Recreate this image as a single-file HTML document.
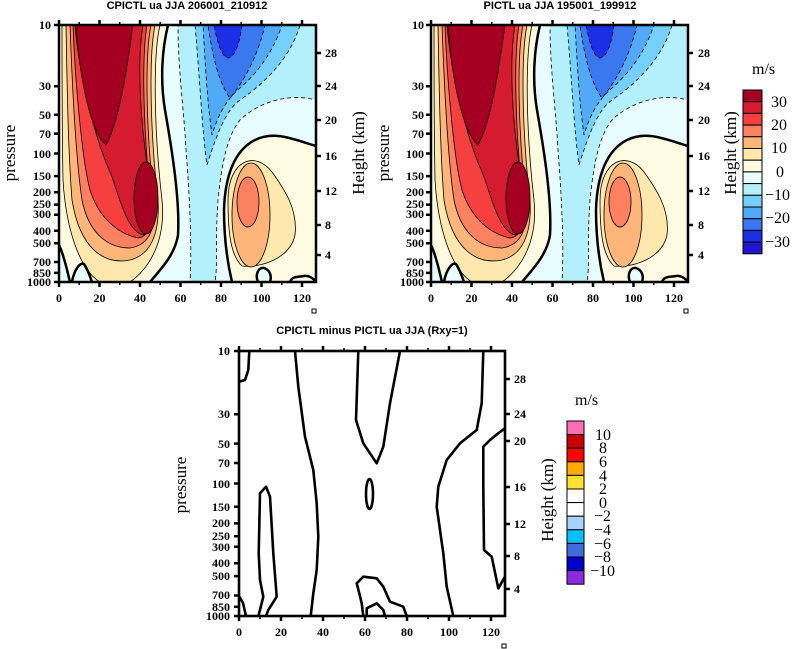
<!DOCTYPE html>
<html><head><meta charset="utf-8"><style>
html,body{margin:0;padding:0;background:#fff;}
svg{display:block;}
.t{font-family:"Liberation Sans",sans-serif;font-weight:bold;font-size:11px;}
.s{font-family:"Liberation Serif",serif;font-size:12px;font-weight:bold;}
.l{font-family:"Liberation Serif",serif;font-size:16px;}
.ax{font-family:"Liberation Serif",serif;font-size:17px;}
</style></head><body>
<svg width="796" height="649" viewBox="0 0 796 649" xmlns="http://www.w3.org/2000/svg">
<defs>
<clipPath id="cp"><rect x="59" y="25" width="257" height="257"/></clipPath>
<g id="pan">
<g clip-path="url(#cp)">
<rect x="59" y="25" width="257" height="257" fill="#e8fdff"/>
<path d="M178,25 L316,25 L316,100 C285,92 255,105 240,120 C228,135 222,160 218,200 C215,240 218,265 215,282 L190,282 C192,250 190,200 186,150 C184,110 178,70 178,25Z" fill="#b4f0fb" stroke="#000" stroke-width="0.8" stroke-dasharray="4,3"/>
<path d="M195,25 L300,25 C290,60 262,85 240,100 C225,110 215,140 207,165 C202,130 200,80 195,25Z" fill="#74d0fb" stroke="#000" stroke-width="0.8" stroke-dasharray="4,3"/>
<path d="M203,25 L282,25 C272,55 255,75 240,88 C226,100 218,115 212,135 C207,100 205,60 203,25Z" fill="#52a9f6" stroke="#000" stroke-width="0.8" stroke-dasharray="4,3"/>
<path d="M208,25 L265,25 C258,55 245,80 230,98 C220,85 213,60 208,25Z" fill="#3b78f0" stroke="#000" stroke-width="0.8" stroke-dasharray="4,3"/>
<path d="M214,25 L242,25 C240,40 236,57 228,58 C221,57 217,40 214,25Z" fill="#1c2fe6" stroke="#000" stroke-width="0.8" stroke-dasharray="4,3"/>
<path d="M59,25 L168,25 C162,50 160,80 165,110 C172,150 180,200 178,235 C175,255 160,270 150,282 L59,282Z" fill="#fffbe3"/>
<path d="M316,146 C295,140 275,130 255,140 C235,150 225,175 224,210 C224,240 228,265 232,282 L316,282Z" fill="#fffbe3"/>
<path d="M59,245 C64,255 67,270 70,282 L59,282Z" fill="#e8fdff"/>
<path d="M72,282 C74,270 80,262 84,264 C88,270 90,276 92,282Z" fill="#e8fdff"/>
<path d="M258,282 C255,275 258,267 264,268 C270,270 272,276 270,282Z" fill="#e8fdff"/>
<path d="M62,25 L160,25 C152,60 155,140 162,200 C166,240 150,268 130,282 L100,282 C80,270 66,230 63,180 C62,130 62,70 62,25Z" fill="#fee8ad" stroke="#000" stroke-width="0.8"/>
<path d="M66,25 L155,25 C148,60 151,140 158,200 C160,235 150,255 130,260 C105,265 80,250 72,200 C68,150 67,80 66,25Z" fill="#fdb57a" stroke="#000" stroke-width="0.8"/>
<path d="M70,25 L151,25 C144,60 147,140 154,200 C156,228 150,245 130,248 C105,248 88,230 82,200 C76,160 72,80 70,25Z" fill="#fc8160" stroke="#000" stroke-width="0.8"/>
<path d="M73,25 L147,25 C141,60 144,140 151,200 C153,225 148,237 138,238 C115,233 98,215 90,190 C82,160 75,80 73,25Z" fill="#f5403f" stroke="#000" stroke-width="0.8"/>
<path d="M75,25 L143,25 C137,60 140,120 148,170 C153,210 151,232 143,235 C125,230 118,190 110,172 C98,145 80,85 75,25Z" fill="#d51b2f" stroke="#000" stroke-width="0.8"/>
<path d="M76,25 L133,25 C128,60 120,120 106,145 C90,130 80,80 76,25Z" fill="#a50021" stroke="#000" stroke-width="0.8"/>
<ellipse cx="146" cy="198" rx="12" ry="36" fill="#a50021" stroke="#000" stroke-width="0.8"/>
<path d="M228,200 C228,160 255,150 272,172 C285,190 298,210 295,235 C290,258 262,268 242,266 C230,255 228,230 228,200Z" fill="#fee8ad" stroke="#000" stroke-width="0.8"/>
<ellipse cx="251" cy="215" rx="19" ry="52" fill="#fdb57a" stroke="#000" stroke-width="0.8"/>
<ellipse cx="248" cy="202" rx="11" ry="25" fill="#fc8160" stroke="#000" stroke-width="0.8"/>
<path d="M168,25 C162,50 160,80 165,110 C172,150 180,200 178,235 C175,255 160,270 150,282" fill="none" stroke="#000" stroke-width="2.5"/>
<path d="M316,146 C295,140 275,130 255,140 C235,150 225,175 224,210 C224,240 228,265 232,282" fill="none" stroke="#000" stroke-width="2.5"/>
<path d="M59,245 C64,255 67,270 70,282 M72,282 C74,270 80,262 84,264 C88,270 90,276 92,282 M258,282 C255,275 258,267 264,268 C270,270 272,276 270,282 M290,282 C292,276 298,277 304,276 C310,275 314,280 316,281" fill="none" stroke="#000" stroke-width="2.5"/>
</g>
<rect x="59" y="25" width="257" height="257" fill="none" stroke="#000" stroke-width="2.5"/>
<path d="M59,25h-5M59,86.3h-5M59,114.8h-5M59,133.6h-5M59,153.5h-5M59,176.1h-5M59,192.2h-5M59,204.6h-5M59,214.8h-5M59,230.8h-5M59,243.3h-5M59,262h-5M59,272.9h-5M59,282h-5
M316,53h5M316,86h5M316,120h5M316,156h5M316,191h5M316,225h5M316,255h5
M59,282v5M99.5,282v5M140,282v5M180.5,282v5M221,282v5M261.5,282v5M302,282v5
M59,25v-5M99.5,25v-5M140,25v-5M180.5,25v-5M221,25v-5M261.5,25v-5M302,25v-5" stroke="#000" stroke-width="2.5" fill="none"/>
<path d="M79.2,282v3M119.7,282v3M160.2,282v3M200.7,282v3M241.2,282v3M281.7,282v3M79.2,25v-3M119.7,25v-3M160.2,25v-3M200.7,25v-3M241.2,25v-3M281.7,25v-3" stroke="#000" stroke-width="1.5"/>
<rect x="312" y="309" width="4" height="4" fill="none" stroke="#000" stroke-width="1"/>
</g>
</defs>

<use href="#pan"/>
<use href="#pan" x="372"/>

<!-- panel 1 text -->
<text class="t" x="187" y="9" text-anchor="middle">CPICTL ua JJA 206001_210912</text>
<g class="s" text-anchor="end">
<text x="51" y="29">10</text><text x="51" y="90">30</text><text x="51" y="119">50</text><text x="51" y="138">70</text><text x="51" y="158">100</text><text x="51" y="180">150</text><text x="51" y="196">200</text><text x="51" y="208">250</text><text x="51" y="218">300</text><text x="51" y="235">400</text><text x="51" y="247">500</text><text x="51" y="266">700</text><text x="51" y="277">850</text><text x="51" y="286">1000</text>
</g>
<g class="s">
<text x="325" y="57">28</text><text x="325" y="90">24</text><text x="325" y="124">20</text><text x="325" y="160">16</text><text x="325" y="195">12</text><text x="325" y="229">8</text><text x="325" y="259">4</text>
</g>
<g class="s" text-anchor="middle">
<text x="59" y="302">0</text><text x="99.5" y="302">20</text><text x="140" y="302">40</text><text x="180.5" y="302">60</text><text x="221" y="302">80</text><text x="261.5" y="302">100</text><text x="302" y="302">120</text>
</g>
<text class="ax" transform="translate(15,153) rotate(-90)" text-anchor="middle">pressure</text>
<text class="ax" transform="translate(364,153) rotate(-90)" text-anchor="middle">Height (km)</text>

<!-- panel 2 text -->
<text class="t" x="560" y="9" text-anchor="middle">PICTL ua JJA 195001_199912</text>
<g class="s" text-anchor="end">
<text x="424" y="29">10</text><text x="424" y="90">30</text><text x="424" y="119">50</text><text x="424" y="138">70</text><text x="424" y="158">100</text><text x="424" y="180">150</text><text x="424" y="196">200</text><text x="424" y="208">250</text><text x="424" y="218">300</text><text x="424" y="235">400</text><text x="424" y="247">500</text><text x="424" y="266">700</text><text x="424" y="277">850</text><text x="424" y="286">1000</text>
</g>
<g class="s">
<text x="698" y="57">28</text><text x="698" y="90">24</text><text x="698" y="124">20</text><text x="698" y="160">16</text><text x="698" y="195">12</text><text x="698" y="229">8</text><text x="698" y="259">4</text>
</g>
<g class="s" text-anchor="middle">
<text x="431" y="302">0</text><text x="471.5" y="302">20</text><text x="512" y="302">40</text><text x="552.5" y="302">60</text><text x="593" y="302">80</text><text x="633.5" y="302">100</text><text x="674" y="302">120</text>
</g>
<text class="ax" transform="translate(389,153) rotate(-90)" text-anchor="middle">pressure</text>
<text class="ax" transform="translate(736,153) rotate(-90)" text-anchor="middle">Height (km)</text>

<!-- top legend -->
<text class="l" x="752" y="74">m/s</text>
<g stroke="#000" stroke-width="1">
<rect x="743" y="90" width="19" height="11.7" fill="#a50021"/>
<rect x="743" y="101.7" width="19" height="11.7" fill="#d51b2f"/>
<rect x="743" y="113.4" width="19" height="11.7" fill="#f5403f"/>
<rect x="743" y="125.1" width="19" height="11.7" fill="#fc8160"/>
<rect x="743" y="136.8" width="19" height="11.7" fill="#fdb57a"/>
<rect x="743" y="148.5" width="19" height="11.7" fill="#fee8ad"/>
<rect x="743" y="160.2" width="19" height="11.7" fill="#fffbe3"/>
<rect x="743" y="171.9" width="19" height="11.7" fill="#e8fdff"/>
<rect x="743" y="183.6" width="19" height="11.7" fill="#b4f0fb"/>
<rect x="743" y="195.3" width="19" height="11.7" fill="#74d0fb"/>
<rect x="743" y="207" width="19" height="11.7" fill="#52a9f6"/>
<rect x="743" y="218.7" width="19" height="11.7" fill="#3b78f0"/>
<rect x="743" y="230.4" width="19" height="11.7" fill="#1c2fe6"/>
<rect x="743" y="242.1" width="19" height="11.7" fill="#2214d2"/>
</g>
<g class="l">
<text x="771" y="107">30</text><text x="771" y="130">20</text><text x="771" y="153">10</text><text x="776" y="177">0</text><text x="765" y="200">−10</text><text x="765" y="223">−20</text><text x="765" y="247">−30</text>
</g>

<!-- bottom panel -->
<text class="t" x="372" y="334" text-anchor="middle">CPICTL minus PICTL ua JJA (Rxy=1)</text>
<rect x="239" y="351" width="266" height="265" fill="#fff"/>
<g fill="none" stroke="#000" stroke-width="2.6" stroke-linejoin="round">
<path d="M249.3,351 L248.3,370 L245,380 L239,381.7"/>
<path d="M239,596 L243,603 L246,616"/>
<path d="M258.3,616 L260,610 L263.3,596.7 L260,580 L258.7,553.3 L260,493.3 L266,486.7 L270,496.7 L273.3,553.3 L276.7,596.7 L268.3,610 L266,616"/>
<path d="M295,351 L298.3,386.7 L305,436.7 L313.3,470 L316.7,503.3 L318.3,536.7 L316.7,570 L313.3,593.3 L310.7,616"/>
<path d="M358.3,351 L356,420 L363.3,443.3 L376.7,463.3 L383.3,446.7 L390,403.3 L400,351"/>
<ellipse cx="369.5" cy="494" rx="3.5" ry="15"/>
<path d="M363.3,616 L361.7,603.3 L359.3,593.3 L356.7,583.3 L363.3,576.7 L376.7,578.3 L383.3,586.7 L390,601.7 L403.3,606.7 L406.7,616"/>
<path d="M366.7,616 L366.7,608.3 L376.7,603.3 L383.3,610 L385,616"/>
<path d="M483.3,351 L481.7,403.3 L476.7,430 L460,443.3 L446.7,460 L438.3,486.7 L436.7,506.7 L443.3,553.3 L446.7,586.7 L453.3,616"/>
<path d="M505,428.3 L498.3,433.3 L490,440 L483.3,446.7 L483.3,486.7 L484,550 L491.7,556.7 L498.3,588.3 L505,576.7"/>
</g>
<rect x="239" y="351" width="266" height="265" fill="none" stroke="#000" stroke-width="2.6"/>
<path d="M239,351h-5M239,414.2h-5M239,443.6h-5M239,463h-5M239,483.5h-5M239,506.8h-5M239,523.4h-5M239,536.2h-5M239,546.7h-5M239,563.3h-5M239,576.1h-5M239,595.5h-5M239,606.7h-5M239,616h-5
M505,379h5M505,414h5M505,441h5M505,487h5M505,524h5M505,556h5M505,589h5
M239,616v5M281,616v5M323,616v5M365,616v5M407,616v5M449,616v5M491,616v5
M239,351v-5M281,351v-5M323,351v-5M365,351v-5M407,351v-5M449,351v-5M491,351v-5" stroke="#000" stroke-width="2.5" fill="none"/>
<path d="M260,616v3M302,616v3M344,616v3M386,616v3M428,616v3M470,616v3M260,351v-3M302,351v-3M344,351v-3M386,351v-3M428,351v-3M470,351v-3" stroke="#000" stroke-width="1.5"/>
<rect x="502" y="644" width="4" height="4" fill="none" stroke="#000" stroke-width="1"/>
<g class="s" text-anchor="end">
<text x="230" y="355">10</text><text x="230" y="418">30</text><text x="230" y="448">50</text><text x="230" y="467">70</text><text x="230" y="488">100</text><text x="230" y="511">150</text><text x="230" y="527">200</text><text x="230" y="540">250</text><text x="230" y="551">300</text><text x="230" y="567">400</text><text x="230" y="580">500</text><text x="230" y="599">700</text><text x="230" y="611">850</text><text x="230" y="620">1000</text>
</g>
<g class="s">
<text x="514" y="383">28</text><text x="514" y="418">24</text><text x="514" y="445">20</text><text x="514" y="491">16</text><text x="514" y="528">12</text><text x="514" y="560">8</text><text x="514" y="593">4</text>
</g>
<g class="s" text-anchor="middle">
<text x="239" y="636">0</text><text x="281" y="636">20</text><text x="323" y="636">40</text><text x="365" y="636">60</text><text x="407" y="636">80</text><text x="449" y="636">100</text><text x="491" y="636">120</text>
</g>
<text class="ax" transform="translate(186,485) rotate(-90)" text-anchor="middle">pressure</text>
<text class="ax" transform="translate(553,500) rotate(-90)" text-anchor="middle">Height (km)</text>

<!-- bottom legend -->
<text class="l" x="575" y="405">m/s</text>
<g stroke="#000" stroke-width="1">
<rect x="567" y="421" width="17" height="13.6" fill="#ff6eb4"/>
<rect x="567" y="434.6" width="17" height="13.6" fill="#c80000"/>
<rect x="567" y="448.2" width="17" height="13.6" fill="#ff0000"/>
<rect x="567" y="461.8" width="17" height="13.6" fill="#ffaa00"/>
<rect x="567" y="475.4" width="17" height="13.6" fill="#ffe033"/>
<rect x="567" y="489" width="17" height="13.6" fill="#ffffff"/>
<rect x="567" y="502.6" width="17" height="13.6" fill="#ffffff"/>
<rect x="567" y="516.2" width="17" height="13.6" fill="#a6d2ff"/>
<rect x="567" y="529.8" width="17" height="13.6" fill="#00c0ff"/>
<rect x="567" y="543.4" width="17" height="13.6" fill="#4169e1"/>
<rect x="567" y="557" width="17" height="13.6" fill="#0000c8"/>
<rect x="567" y="570.6" width="17" height="13.6" fill="#8a2be2"/>
</g>
<g class="l">
<text x="595" y="440">10</text><text x="599" y="453">8</text><text x="599" y="467">6</text><text x="599" y="481">4</text><text x="599" y="494">2</text><text x="599" y="508">0</text><text x="594" y="521">−2</text><text x="594" y="535">−4</text><text x="594" y="549">−6</text><text x="594" y="562">−8</text><text x="590" y="576">−10</text>
</g>
</svg>
</body></html>
